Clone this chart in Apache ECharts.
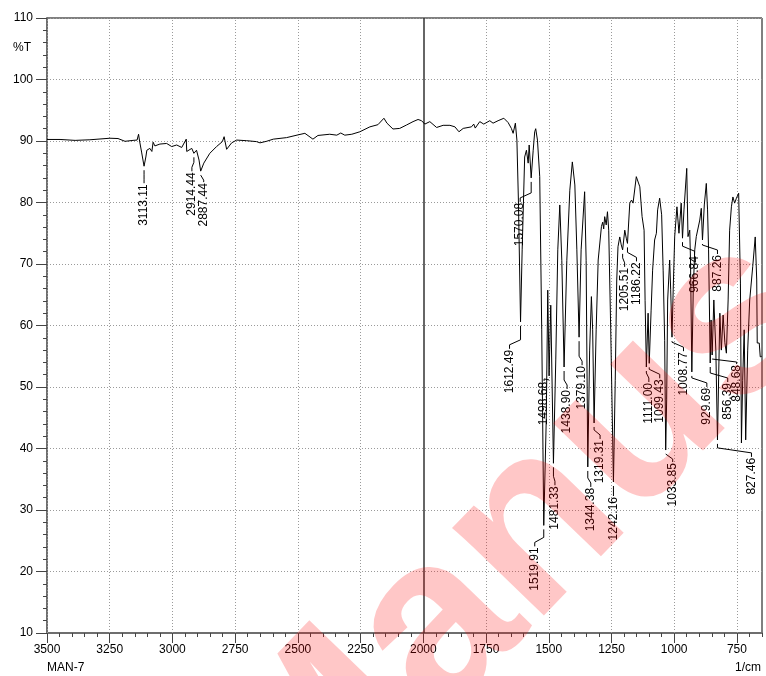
<!DOCTYPE html>
<html>
<head>
<meta charset="utf-8">
<script src="https://cdn.jsdelivr.net/npm/echarts@6/dist/echarts.min.js"></script>
<style>
  html, body { margin: 0; padding: 0; background: #fff; }
  #chart { width: 766px; height: 676px; }
</style>
</head>
<body>
<div id="chart"></div>
<script>
// IR spectrum of sample MAN-7: wavenumber (1/cm) vs transmittance (%T)
const wavenumbers = [
  3500, 3448, 3388, 3329, 3249, 3217, 3189, 3157, 3141, 3135, 3131, 3123, 3113.11, 3106, 3102,
  3090, 3082, 3077, 3070, 3050, 3023, 3003, 2983, 2963, 2945, 2943, 2923, 2914.44, 2904, 2894,
  2887.44, 2875, 2851, 2824, 2801, 2794, 2784, 2764, 2744, 2704, 2665, 2651, 2625, 2598, 2545,
  2499, 2472, 2440, 2420, 2373, 2345, 2329, 2313, 2285, 2253, 2213, 2181, 2157, 2145, 2121,
  2094, 2067, 2041, 2021, 2007, 1994, 1974, 1947, 1921, 1894, 1874, 1858, 1841, 1808, 1799,
  1793, 1775, 1759, 1735, 1722, 1702, 1679, 1662, 1649, 1642, 1633, 1627, 1621, 1612.49, 1606,
  1596, 1589, 1582, 1578, 1570.08, 1562, 1556, 1552, 1545, 1536, 1528, 1519.91, 1510, 1504, 1498.68,
  1492, 1481.33, 1472, 1464, 1456, 1448, 1438.90, 1428, 1416, 1406, 1396, 1388, 1379.10, 1371, 1357,
  1351, 1344.38, 1337, 1330, 1325, 1319.31, 1311, 1303, 1290, 1285, 1281, 1277, 1271, 1266, 1261,
  1253, 1242.16, 1235, 1229, 1224, 1217, 1211, 1205.51, 1197, 1191, 1186.22, 1177, 1170, 1164, 1151,
  1137, 1128, 1120, 1116, 1111.00, 1104, 1099.43, 1092, 1086, 1078, 1071, 1066, 1058, 1050, 1044,
  1038, 1033.85, 1030, 1026, 1018, 1014, 1008.77, 1004, 998, 989, 981, 972, 966.84, 961, 950,
  945, 938, 935, 929.69, 924, 918, 912, 905, 898, 892, 887.26, 880, 872, 867, 863,
  856.39, 853, 848.68, 842, 834, 827.46, 818, 812, 805, 798, 792, 785, 779, 772, 766,
  759, 752, 746, 743, 736, 732, 727, 721, 715, 707, 699, 687, 677, 671, 669,
  661, 657, 651
];
const transmittance = [
  90.25, 90.25, 90.1, 90.2, 90.45, 90.4, 89.95, 90.1, 90.15, 91.1, 90.0, 88.2, 85.9, 87.4, 88.5,
  88.8, 88.3, 89.8, 89.2, 89.5, 89.6, 89.1, 89.35, 88.95, 90.3, 88.3, 88.8, 88.0, 88.5, 86.9,
  85.1, 86.4, 88.0, 89.1, 89.9, 90.7, 88.65, 89.7, 90.15, 90.05, 89.9, 89.7, 89.95, 90.3, 90.55,
  91.0, 91.25, 90.3, 90.9, 91.1, 90.95, 91.3, 90.95, 91.1, 91.5, 92.3, 92.65, 93.7, 92.9, 91.95,
  92.05, 92.6, 93.15, 93.5, 93.3, 92.75, 93.15, 92.2, 92.55, 92.55, 92.3, 91.5, 92.05, 92.3, 92.75,
  92.1, 93.15, 92.75, 93.3, 92.9, 93.3, 93.7, 93.0, 92.05, 91.25, 92.9, 90.15, 80.4, 60.6, 72.3,
  87.4, 88.5, 86.4, 89.35, 84.0, 88.5, 91.5, 92.0, 90.15, 84.2, 59.3, 27.5, 44.6, 65.75, 51.8,
  63.3, 37.6, 54.4, 72.3, 79.6, 70.6, 53.25, 70.6, 82.0, 86.6, 82.85, 72.3, 58.1, 72.3, 81.75,
  70.6, 37.0, 56.0, 64.7, 59.3, 44.15, 59.3, 70.65, 76.1, 76.8, 75.7, 77.7, 76.35, 78.5, 75.5,
  59.3, 34.55, 51.1, 67.4, 72.8, 74.4, 73.1, 72.3, 75.5, 74.2, 73.35, 79.9, 80.4, 79.9, 84.2,
  82.55, 77.7, 75.5, 64.1, 53.25, 62.0, 53.85, 62.5, 69.0, 73.9, 75.0, 78.8, 80.7, 78.0, 69.0,
  57.6, 39.75, 47.9, 64.15, 70.65, 65.8, 58.1, 65.8, 74.45, 79.3, 75.0, 79.9, 74.2, 78.8, 85.55,
  74.45, 75.5, 70.65, 52.45, 65.8, 72.3, 74.45, 74.2, 77.15, 79.05, 73.9, 79.6, 83.1, 78.8, 72.3,
  53.9, 60.9, 55.2, 64.15, 56.0, 41.4, 62.0, 56.0, 61.7, 57.2, 55.5, 64.15, 75.5, 79.3, 80.9,
  79.9, 80.7, 80.4, 81.5, 66.9, 40.9, 51.1, 59.3, 41.4, 56.0, 64.15, 69.55, 74.4, 67.4, 57.15,
  57.15, 54.9, 55.0
];

// Picked peaks (labelled with their wavenumber)
const peakWavenumbers = [
  3113.11, 2914.44, 2887.44, 1612.49, 1570.08, 1519.91, 1498.68, 1481.33, 1438.90, 1379.10,
  1344.38, 1319.31, 1242.16, 1205.51, 1186.22, 1111.00, 1099.43, 1033.85, 1008.77, 966.84,
  929.69, 887.26, 856.39, 848.68, 827.46
];

// Axis ticks
const xMajorTicks = [3500, 3250, 3000, 2750, 2500, 2250, 2000, 1750, 1500, 1250, 1000, 750];
const xMin = 650, xMax = 3500;
const yMin = 10, yMax = 110;

// Label placement: offset (px) of each label's upper end from its peak, to keep labels apart
const labelOffsets = [
  [0, 18], [-2, 19], [3, 12], [-11, 28], [-11, 25], [-9, 22], [-5, 6], [1.5, 23], [3, 23], [3, 29],
  [3, 21], [6, 17], [0, 15], [2, 18], [9, 19], [2.5, 16], [10.5, 16], [7, 13], [11.5, 15], [12, 18],
  [15, 16], [15, 15], [17.5, 20], [24.5, 10], [34, 18]
];

const FONT = '"Liberation Sans", Arial, Helvetica, sans-serif';

const spectrum = wavenumbers.map((w, i) => [w, transmittance[i]]);
const peaks = peakWavenumbers.map(w => [w, transmittance[wavenumbers.indexOf(w)], w.toFixed(2)]);

const chart = echarts.init(document.getElementById('chart'), null, { renderer: 'canvas' });

const gridLineStyle = { color: '#9a9a9a', width: 1, type: [1, 2] };

chart.setOption({
  animation: false,
  backgroundColor: '#fff',
  grid: { left: 47, right: 4, top: 18, bottom: 43, show: true, borderColor: '#000', borderWidth: 1, backgroundColor: 'transparent' },
  xAxis: [
    {
      // minor ticks every 50 1/cm
      type: 'value', inverse: true, min: xMin, max: xMax, interval: 50, position: 'bottom',
      axisLine: { show: true, lineStyle: { color: '#6e6e6e', width: 2 } },
      axisTick: { show: true, length: 4, lineStyle: { color: '#444', width: 1 } },
      axisLabel: { show: false },
      splitLine: { show: false }
    },
    {
      // major ticks and labels every 250 1/cm
      type: 'value', inverse: true, min: xMin, max: xMax, position: 'bottom',
      axisLine: { show: false },
      axisTick: { show: true, length: 10, customValues: xMajorTicks, lineStyle: { color: '#444', width: 1 } },
      axisLabel: {
        show: true, customValues: xMajorTicks, margin: 11, fontSize: 12, color: '#000', fontFamily: FONT,
        formatter: v => String(v)
      },
      splitLine: { show: false }
    }
  ],
  yAxis: {
    type: 'value', min: yMin, max: yMax, interval: 10,
    axisLine: { show: true, lineStyle: { color: '#6e6e6e', width: 2 } },
    axisTick: { show: true, length: 11, lineStyle: { color: '#444', width: 1 } },
    minorTick: { show: true, splitNumber: 5, length: 4, lineStyle: { color: '#444', width: 1 } },
    axisLabel: { margin: 14, fontSize: 12, color: '#000', fontFamily: FONT, formatter: v => String(v) },
    splitLine: { show: true, lineStyle: gridLineStyle }
  },
  series: [
    {
      type: 'line', xAxisIndex: 0, data: spectrum, showSymbol: false, symbol: 'none',
      lineStyle: { color: '#000', width: 1 }, z: 5,
      markLine: {
        silent: true, symbol: 'none', label: { show: false }, animation: false,
        lineStyle: gridLineStyle,
        data: xMajorTicks.filter(v => v !== 2000).map(v => ({ xAxis: v }))
          .concat([{ xAxis: 2000, lineStyle: { color: '#333', width: 1.5, type: 'solid' } }])
      }
    },
    {
      type: 'custom', xAxisIndex: 0, data: peaks, z: 6,
      renderItem(params, api) {
        const p = api.coord([api.value(0), api.value(1)]);
        const off = labelOffsets[params.dataIndex];
        const lx = p[0] + off[0];
        const ty = p[1] + off[1];
        const y0 = p[1] + 4;
        const yk = Math.max(y0, ty - 10);
        const pts = [[p[0], y0], [p[0], yk], [lx, Math.min(ty - 3, yk + 5)], [lx, ty - 1]];
        return {
          type: 'group',
          children: [
            { type: 'polyline', shape: { points: pts }, style: { stroke: '#000', lineWidth: 1, fill: null } },
            {
              type: 'text', x: lx, y: ty, rotation: Math.PI / 2,
              style: { text: peaks[params.dataIndex][2], fontSize: 12, fontFamily: FONT, fill: '#000', align: 'right', verticalAlign: 'middle' }
            }
          ]
        };
      }
    }
  ],
  graphic: [
    { type: 'text', left: 13, top: 42, style: { text: '%T', fontSize: 12, fontFamily: FONT, fill: '#000' } },
    { type: 'text', left: 47, top: 662, style: { text: 'MAN-7', fontSize: 12, fontFamily: FONT, fill: '#000' } },
    { type: 'text', right: 5, top: 662, style: { text: '1/cm', fontSize: 12, fontFamily: FONT, fill: '#000' } },
    {
      // watermark
      type: 'text', x: 517, y: 548, rotation: 46 * Math.PI / 180, z: 100, silent: true,
      style: { text: 'Manus', font: 'bold 240px ' + FONT, fill: 'rgba(255,0,0,0.22)', align: 'center', verticalAlign: 'middle' }
    }
  ]
});
</script>
</body>
</html>
